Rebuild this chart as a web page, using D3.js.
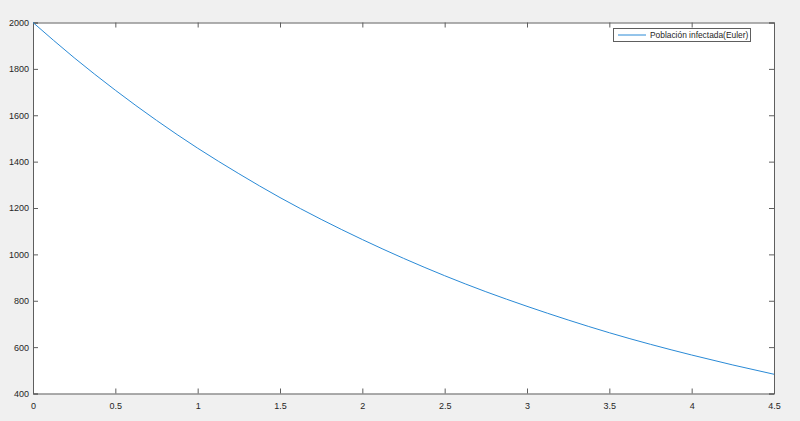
<!DOCTYPE html>
<html><head><meta charset="utf-8">
<script src="https://cdn.jsdelivr.net/npm/d3@7"></script>
<style>
html,body{margin:0;padding:0;background:#f0f0f0;}
svg{display:block;}
text{font-family:"Liberation Sans",Arial,Helvetica,sans-serif;fill:#262626;}
</style></head>
<body>
<script>
const tValues = [0,0.25,0.5,0.75,1,1.25,1.5,1.75,2,2.25,2.5,2.75,3,3.25,3.5,3.75,4,4.25,4.5];
const infected = [2000,1848,1708,1578,1458,1348,1245,1151,1064,983,908,839,776,717,662,612,566,523,483];
const xTicks = [0,0.5,1,1.5,2,2.5,3,3.5,4,4.5];
const yTicks = [400,600,800,1000,1200,1400,1600,1800,2000];
const seriesName = "Población infectada(Euler)";

const W = 800, H = 421;
const L = 33, R = 774, T = 22.5, B = 393.5;
const svg = d3.select("body").append("svg").attr("width", W).attr("height", H);
const x = d3.scaleLinear().domain([0, 4.5]).range([L, R]);
const y = d3.scaleLinear().domain([400, 2000]).range([B, T]);

svg.append("rect").attr("x", L).attr("y", T).attr("width", R - L).attr("height", B - T).attr("fill", "#fff");

const axColor = "#5e5e5e";
const tl = 5;
// bottom axis
const gx = svg.append("g").attr("transform", `translate(0,${B})`)
  .call(d3.axisBottom(x).tickValues(xTicks).tickSize(-tl).tickPadding(9).tickFormat(d3.format("")));
// top axis
const gxt = svg.append("g").attr("transform", `translate(0,${T})`)
  .call(d3.axisTop(x).tickValues(xTicks).tickSize(-tl).tickFormat(""));
// left
const gy = svg.append("g").attr("transform", `translate(${L},0)`)
  .call(d3.axisLeft(y).tickValues(yTicks).tickSize(-tl).tickPadding(4).tickFormat(d3.format("")));
// right
const gyr = svg.append("g").attr("transform", `translate(${R},0)`)
  .call(d3.axisRight(y).tickValues(yTicks).tickSize(-tl).tickFormat(""));
[gx, gxt, gy, gyr].forEach(g => {
  g.select(".domain").attr("stroke", axColor).attr("stroke-width", 1);
  g.selectAll(".tick line").attr("stroke", axColor);
  g.selectAll(".tick text").attr("font-size", 9).attr("fill", "#262626")
    .attr("font-family", '"Liberation Sans",Arial,sans-serif');
});

const data = tValues.map((t, i) => ({t, v: infected[i]}));
svg.append("path").datum(data)
  .attr("fill", "none").attr("stroke", "#2a8ad6").attr("stroke-width", 1)
  .attr("d", d3.line().x(d => x(d.t)).y(d => y(d.v)).curve(d3.curveMonotoneX));

// legend
const lg = svg.append("g");
lg.append("rect").attr("x", 613.5).attr("y", 28.5).attr("width", 137).attr("height", 13)
  .attr("fill", "#fff").attr("stroke", "#5e5e5e").attr("stroke-width", 1);
lg.append("line").attr("x1", 618).attr("x2", 646).attr("y1", 35).attr("y2", 35)
  .attr("stroke", "#2a8ad6").attr("stroke-width", 1);
lg.append("text").attr("x", 650).attr("y", 38).attr("font-size", 8.4).text(seriesName);
</script>
</body></html>
